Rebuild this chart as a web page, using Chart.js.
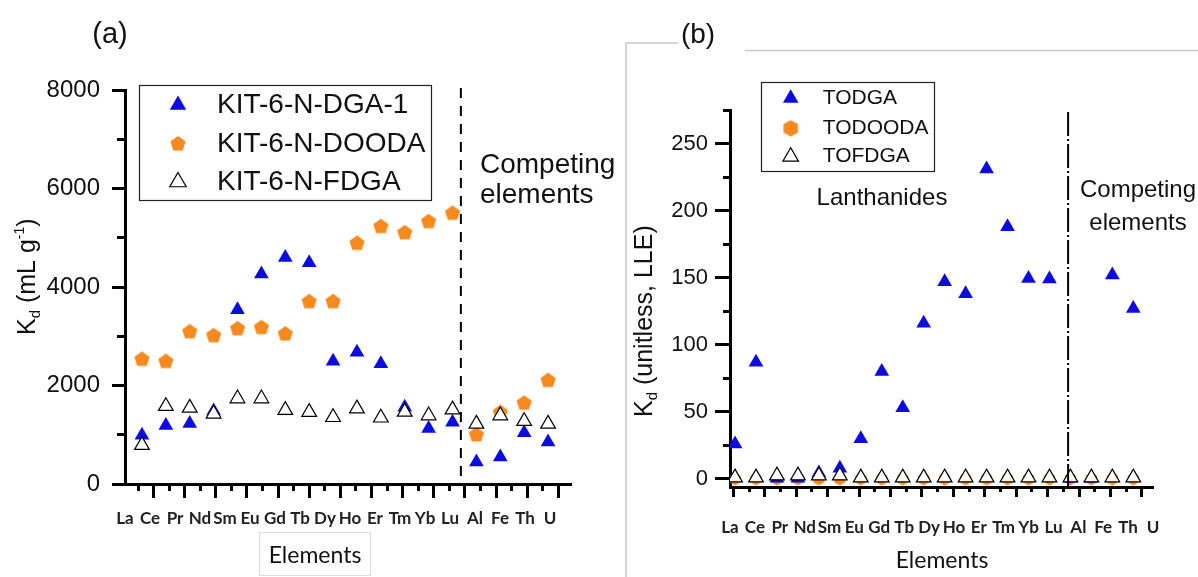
<!DOCTYPE html>
<html>
<head>
<title>Kd of lanthanides and competing elements</title>
<script src="https://cdn.jsdelivr.net/npm/chart.js"></script>
<style>
    body {
        margin: 0;
        background: #fff;
        width: 1198px;
        height: 577px;
        overflow: hidden;
        position: relative;
    }
    #panelA { position: absolute; left: 0; top: 0; }
    #panelB { position: absolute; left: 600px; top: 0; }
</style>
</head>
<body>

<canvas id="panelA" width="626" height="577"></canvas>
<canvas id="panelB" width="598" height="577"></canvas>

<script>
// ---- (a) KIT-6 sorbents, Kd in mL/g ----
const elementsA = ['La','Ce','Pr','Nd','Sm','Eu','Gd','Tb','Dy','Ho','Er','Tm','Yb','Lu','Al','Fe','Th','U'];
const kdDGA1  = [990, 1190, 1230, 1480, 3540, 4265, 4600, 4490, 2490, 2675, 2440, 1560, 1125, 1255, 445, 550, 1040, 855];
const kdDOODA = [2530, 2485, 3090, 3010, 3150, 3175, 3045, 3700, 3700, 4885, 5225, 5100, 5325, 5495, 995, 1450, 1640, 2100];
const kdFDGA  = [790, 1580, 1545, 1425, 1735, 1735, 1500, 1460, 1355, 1530, 1345, 1465, 1390, 1510, 1220, 1390, 1275, 1220];
const yTicksA = [0, 2000, 4000, 6000, 8000];
const yMinorA = [1000, 3000, 5000, 7000];

// ---- (b) liquid-liquid extraction, Kd unitless ----
// the source plots 20 positions under the 18 element labels
const elementsB = ['La','Ce','Pr','Nd','Sm','Eu','Gd','Tb','Dy','Ho','Er','Tm','Yb','Lu','Al','Fe','Th','U'];
const kdTODGA   = [26, 87, 0.5, 0.5, 4.5, 8, 30, 80, 53, 116, 147, 138, 231, 188, 149.5, 149, 0.5, 0.5, 152, 127];
const kdTODOODA = [0, 0, 0, 0, 0, 0, 0, 0, 0, 0, 0, 0, 0, 0, 0, 0, 0, 0, 0, 0];
const kdTOFDGA  = [1, 1, 2.5, 2.5, 2.5, 2.5, 1, 1, 1, 1, 1, 1, 1, 1, 1, 1, 1, 1, 1, 1];
const yTicksB = [0, 50, 100, 150, 200, 250];
const yMinorB = [25, 75, 125, 175, 225, 275];

const BLUE = '#0c0ce0';
const ORANGE = '#f7891f';
const ARIAL = '"Liberation Sans", Arial, sans-serif';
const CALIBRI = 'Lato, "Liberation Sans", sans-serif';

Chart.defaults.color = '#111';

function polygonMarker(sides, r, color) {
    const c = document.createElement('canvas');
    const s = Math.ceil(r * 2 + 2);
    c.width = s; c.height = s;
    const g = c.getContext('2d');
    g.beginPath();
    for (let k = 0; k < sides; k++) {
        const a = -Math.PI / 2 + k * 2 * Math.PI / sides;
        const px = s / 2 + r * Math.cos(a), py = s / 2 + r * Math.sin(a);
        if (k === 0) g.moveTo(px, py); else g.lineTo(px, py);
    }
    g.closePath();
    g.fillStyle = color;
    g.fill();
    return c;
}

const pentagon = polygonMarker(5, 8, ORANGE);
const hexagon = polygonMarker(6, 6.5, ORANGE);
const hexagonLegend = polygonMarker(6, 8.3, ORANGE);

function points(values) {
    return values.map((v, i) => ({ x: i + 1, y: v }));
}

// short / long tick marks along the bottom axis
function tickAxis(min, max, count, parity, length, atY) {
    return {
        type: 'linear', axis: 'x', position: { y: atY }, min: min, max: max,
        afterBuildTicks: s => {
            const t = [];
            for (let k = parity; k < count; k += 2) t.push({ value: k });
            s.ticks = t;
        },
        ticks: { display: false },
        grid: { drawOnChartArea: false, tickLength: length, tickWidth: 3, tickColor: '#000' },
        border: { display: false }
    };
}

function rotatedTitle(ctx, x, y, parts) {
    ctx.save();
    ctx.translate(x, y);
    ctx.rotate(-Math.PI / 2);
    ctx.fillStyle = '#111';
    ctx.textAlign = 'left';
    ctx.textBaseline = 'alphabetic';
    let pos = 0;
    for (const [t, size, shift] of parts) {
        ctx.font = size + 'px ' + ARIAL;
        ctx.fillText(t, pos, shift);
        pos += ctx.measureText(t).width;
    }
    ctx.restore();
}

function boxLegend(chart, cfg) {
    const ctx = chart.ctx;
    ctx.save();
    ctx.strokeStyle = '#222';
    ctx.lineWidth = 1.2;
    ctx.strokeRect(cfg.left, cfg.top, cfg.width, cfg.height);
    chart.data.datasets.forEach((ds, i) => {
        const y = cfg.rows[i];
        ctx.fillStyle = ds.pointBackgroundColor;
        ctx.strokeStyle = ds.pointBorderColor;
        ctx.lineWidth = ds.pointBorderWidth;
        Chart.helpers.drawPoint(ctx, {
            pointStyle: ds.legendStyle || ds.pointStyle,
            radius: cfg.radius, borderWidth: ds.pointBorderWidth, rotation: 0
        }, cfg.markerX, y);
        ctx.fillStyle = '#111';
        ctx.font = cfg.font;
        ctx.textAlign = 'left';
        ctx.textBaseline = 'middle';
        ctx.fillText(ds.label, cfg.textX, y);
    });
    ctx.restore();
}

function divider(chart, value, dash, top) {
    const ctx = chart.ctx;
    const x = chart.scales.x.getPixelForValue(value);
    ctx.save();
    ctx.strokeStyle = '#000';
    ctx.lineWidth = 2;
    ctx.setLineDash(dash);
    ctx.beginPath();
    ctx.moveTo(x, top);
    ctx.lineTo(x, chart.chartArea.bottom);
    ctx.stroke();
    ctx.restore();
}

function text(ctx, t, x, y, font, align) {
    ctx.font = font;
    ctx.textAlign = align || 'left';
    ctx.textBaseline = 'alphabetic';
    ctx.fillStyle = '#111';
    ctx.fillText(t, x, y);
}

// ---------------- panel (a) ----------------
new Chart(document.getElementById('panelA'), {
    type: 'scatter',
    data: {
        datasets: [
            { label: 'KIT-6-N-DGA-1', data: points(kdDGA1), pointStyle: 'triangle', pointRadius: 8.5,
              pointBackgroundColor: BLUE, pointBorderColor: BLUE, pointBorderWidth: 0, order: 1 },
            { label: 'KIT-6-N-DOODA', data: points(kdDOODA), pointStyle: pentagon, pointRadius: 8,
              pointBackgroundColor: ORANGE, pointBorderColor: ORANGE, pointBorderWidth: 0, order: 2 },
            { label: 'KIT-6-N-FDGA', data: points(kdFDGA), pointStyle: 'triangle', pointRadius: 8.5,
              pointBackgroundColor: '#fff', pointBorderColor: '#000', pointBorderWidth: 1.2, order: 0 }
        ]
    },
    options: {
        responsive: false, animation: false, events: [], devicePixelRatio: 1,
        layout: { padding: { left: 0, top: 90, right: 55, bottom: 0 } },
        plugins: { legend: { display: false }, tooltip: { enabled: false } },
        scales: {
            x: { type: 'linear', display: false, min: 0.29, max: 18.96 },
            xLab: {
                type: 'linear', axis: 'x', position: 'bottom', min: 1, max: 18.84,
                afterBuildTicks: s => { s.ticks = elementsA.map((e, i) => ({ value: i + 1 })); },
                ticks: { callback: (v, i) => elementsA[i], autoSkip: false, maxRotation: 0, padding: 24,
                         color: '#222', font: { family: CALIBRI, size: 17, weight: 'bold' } },
                grid: { display: false, drawTicks: false, tickLength: 0 },
                border: { display: true, width: 3, color: '#000' },
                afterFit: s => { s.height = 93; }
            },
            tLong: tickAxis(-0.835, 27.81, 28, 1, 14, 0),
            tShort: tickAxis(-0.835, 27.81, 28, 0, 7, 0),
            y: {
                min: 0, max: 8000,
                afterBuildTicks: s => { s.ticks = yTicksA.map(v => ({ value: v })); },
                ticks: { padding: 12, callback: v => String(v), font: { family: ARIAL, size: 24 } },
                grid: { drawOnChartArea: false, tickLength: 13, tickWidth: 3, tickColor: '#000' },
                border: { width: 3, color: '#000' },
                afterFit: s => { s.width = 125; }
            },
            yMinor: {
                type: 'linear', axis: 'y', position: { x: 0.29 }, min: 0, max: 8000,
                afterBuildTicks: s => { s.ticks = yMinorA.map(v => ({ value: v })); },
                ticks: { display: false },
                grid: { drawOnChartArea: false, tickLength: 8, tickWidth: 3, tickColor: '#000' },
                border: { display: false }
            }
        }
    },
    plugins: [{
        id: 'decorA',
        afterDraw(chart) {
            const ctx = chart.ctx;
            divider(chart, 14.35, [10, 8], chart.chartArea.top - 2);
            boxLegend(chart, { left: 139.5, top: 85.5, width: 292, height: 115, markerX: 178,
                               textX: 217, rows: [105, 144, 182], radius: 9.5, font: '28px ' + ARIAL });
            text(ctx, '(a)', 110, 43, '29px ' + ARIAL, 'center');
            text(ctx, 'Competing', 480, 173, '28px ' + ARIAL);
            text(ctx, 'elements', 480, 203, '28px ' + ARIAL);
            ctx.save();
            ctx.strokeStyle = '#dcdcdc';
            ctx.lineWidth = 1;
            ctx.strokeRect(259.5, 532.5, 111, 43);
            ctx.restore();
            text(ctx, 'Elements', 315, 563, '23px ' + CALIBRI, 'center');
            rotatedTitle(ctx, 35, 335, [['K', 25, 0], ['d', 15, 5], [' (mL g', 25, 0], ['-1', 14, -11], [')', 25, 0]]);
        }
    }]
});

// ---------------- panel (b) ----------------
const yMinB = -6;
new Chart(document.getElementById('panelB'), {
    type: 'scatter',
    data: {
        datasets: [
            { label: 'TODGA', data: points(kdTODGA), pointStyle: 'triangle', pointRadius: 8.5,
              pointBackgroundColor: BLUE, pointBorderColor: BLUE, pointBorderWidth: 0, order: 1 },
            { label: 'TODOODA', data: points(kdTODOODA), pointStyle: hexagon, legendStyle: hexagonLegend, pointRadius: 7,
              pointBackgroundColor: ORANGE, pointBorderColor: ORANGE, pointBorderWidth: 0, order: 2 },
            { label: 'TOFDGA', data: points(kdTOFDGA), pointStyle: 'triangle', pointRadius: 8.5,
              pointBackgroundColor: '#fff', pointBorderColor: '#000', pointBorderWidth: 1.2, order: 0 }
        ]
    },
    options: {
        responsive: false, animation: false, events: [], devicePixelRatio: 1,
        layout: { padding: { left: 0, top: 110, right: 45, bottom: 0 } },
        plugins: { legend: { display: false }, tooltip: { enabled: false } },
        scales: {
            x: { type: 'linear', display: false, min: 0.76, max: 20.94 },
            xLab: {
                type: 'linear', axis: 'x', position: 'bottom', min: 1, max: 18,
                afterBuildTicks: s => { s.ticks = elementsB.map((e, i) => ({ value: i + 1 })); },
                ticks: { callback: (v, i) => elementsB[i], autoSkip: false, maxRotation: 0, padding: 30,
                         color: '#222', font: { family: CALIBRI, size: 17, weight: 'bold' } },
                grid: { display: false, drawTicks: false, tickLength: 0 },
                border: { display: true, width: 3, color: '#000' },
                afterFit: s => { s.height = 90; }
            },
            tLong: tickAxis(-0.21, 26.7, 27, 0, 10, yMinB),
            tShort: tickAxis(-0.21, 26.7, 27, 1, 5, yMinB),
            y: {
                min: yMinB, max: 275,
                afterBuildTicks: s => { s.ticks = yTicksB.map(v => ({ value: v })); },
                ticks: { padding: 7, callback: v => String(v), font: { family: ARIAL, size: 22 } },
                grid: { drawOnChartArea: false, tickLength: 15, tickWidth: 3, tickColor: '#000' },
                border: { width: 3, color: '#000' },
                afterFit: s => { s.width = 130; }
            },
            yMinor: {
                type: 'linear', axis: 'y', position: { x: 0.76 }, min: yMinB, max: 275,
                afterBuildTicks: s => { s.ticks = yMinorB.map(v => ({ value: v })); },
                ticks: { display: false },
                grid: { drawOnChartArea: false, tickLength: 7, tickWidth: 3, tickColor: '#000' },
                border: { display: false }
            }
        }
    },
    plugins: [{
        id: 'decorB',
        afterDraw(chart) {
            const ctx = chart.ctx;
            // light frame of the pasted panel
            ctx.save();
            ctx.strokeStyle = '#c8c8c8';
            ctx.lineWidth = 1.5;
            ctx.beginPath();
            ctx.moveTo(26, 577); ctx.lineTo(26, 43); ctx.lineTo(78, 43);
            ctx.moveTo(145, 50.5); ctx.lineTo(598, 50.5);
            ctx.stroke();
            ctx.restore();
            divider(chart, 16.89, [24, 3, 2, 3], chart.chartArea.top + 2);
            boxLegend(chart, { left: 161.5, top: 82.5, width: 173, height: 89, markerX: 190.7,
                               textX: 222.7, rows: [98.3, 128.3, 156.7], radius: 9, font: '21px ' + ARIAL });
            text(ctx, '(b)', 98, 43, '28px ' + ARIAL, 'center');
            text(ctx, 'Lanthanides', 282, 205, '24px ' + ARIAL, 'center');
            text(ctx, 'Competing', 538, 197, '24px ' + ARIAL, 'center');
            text(ctx, 'elements', 538, 230, '24px ' + ARIAL, 'center');
            text(ctx, 'Elements', 342, 568, '23px ' + CALIBRI, 'center');
            rotatedTitle(ctx, 52, 417, [['K', 25, 0], ['d', 15, 5], [' (unitless, LLE)', 25, 0]]);
        }
    }]
});
</script>

</body>
</html>
